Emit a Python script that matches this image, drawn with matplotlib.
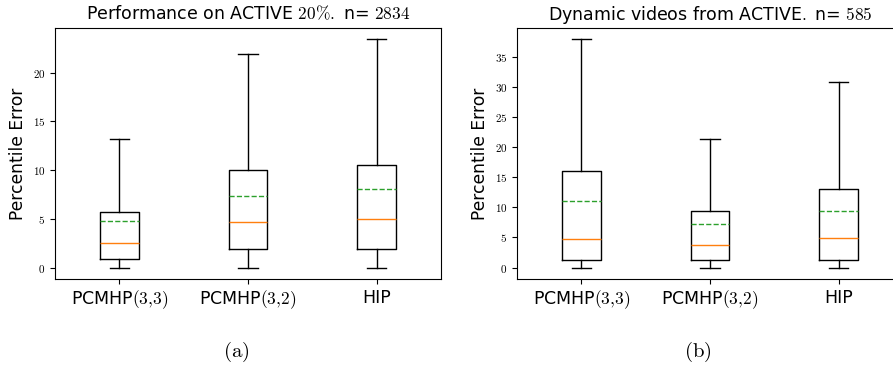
import matplotlib
matplotlib.use("Agg")
import matplotlib.pyplot as plt
from matplotlib.ticker import FuncFormatter, MultipleLocator

plt.rcParams["mathtext.fontset"] = "cm"

labels = ["PCMHP$(3{,}3)$", "PCMHP$(3{,}2)$", "HIP"]

# panel (a): ACTIVE 20%
a_whislo = [0, 0, 0]
a_q1 = [0.85, 1.95, 1.95]
a_med = [2.55, 4.65, 4.95]
a_mean = [4.8, 7.35, 8.1]
a_q3 = [5.75, 10.0, 10.5]
a_whishi = [13.2, 21.9, 23.4]

# panel (b): dynamic videos
b_whislo = [0, 0, 0]
b_q1 = [1.33, 1.33, 1.2]
b_med = [4.8, 3.8, 4.95]
b_mean = [11.05, 7.3, 9.45]
b_q3 = [16.0, 9.4, 13.1]
b_whishi = [37.9, 21.4, 30.9]


def make_stats(lo, q1, med, mean, q3, hi):
    stats = []
    for i in range(len(lo)):
        stats.append(dict(whislo=lo[i], q1=q1[i], med=med[i], mean=mean[i],
                          q3=q3[i], whishi=hi[i], fliers=[]))
    return stats


def draw(ax, stats, title):
    ax.bxp(stats, showmeans=True, meanline=True, showfliers=False)
    ax.set_xticks([1, 2, 3])
    ax.set_xticklabels(labels, fontsize=12.5)
    ax.set_ylabel("Percentile Error", fontsize=12.3)
    ax.set_title(title, fontsize=12.5)
    ax.yaxis.set_major_locator(MultipleLocator(5))
    ax.yaxis.set_major_formatter(FuncFormatter(lambda v, p: "$%d$" % v))
    ax.tick_params(axis="y", labelsize=8)


fig = plt.figure(figsize=(8.93, 3.67), dpi=100)
ax1 = fig.add_axes([55 / 893, 88 / 367, 386 / 893, 251 / 367])
ax2 = fig.add_axes([517 / 893, 88 / 367, 386 / 893, 251 / 367])

draw(ax1, make_stats(a_whislo, a_q1, a_med, a_mean, a_q3, a_whishi),
     r"Performance on ACTIVE $20\%.$ n= $2834$")
draw(ax2, make_stats(b_whislo, b_q1, b_med, b_mean, b_q3, b_whishi),
     r"Dynamic videos from ACTIVE$.$ n= $585$")

fig.text(236 / 893, 1 - 352 / 367, r"$\mathrm{(a)}$", fontsize=15, ha="center", va="center")
fig.text(698 / 893, 1 - 352 / 367, r"$\mathrm{(b)}$", fontsize=15, ha="center", va="center")

fig.savefig("out.png", dpi=100)
